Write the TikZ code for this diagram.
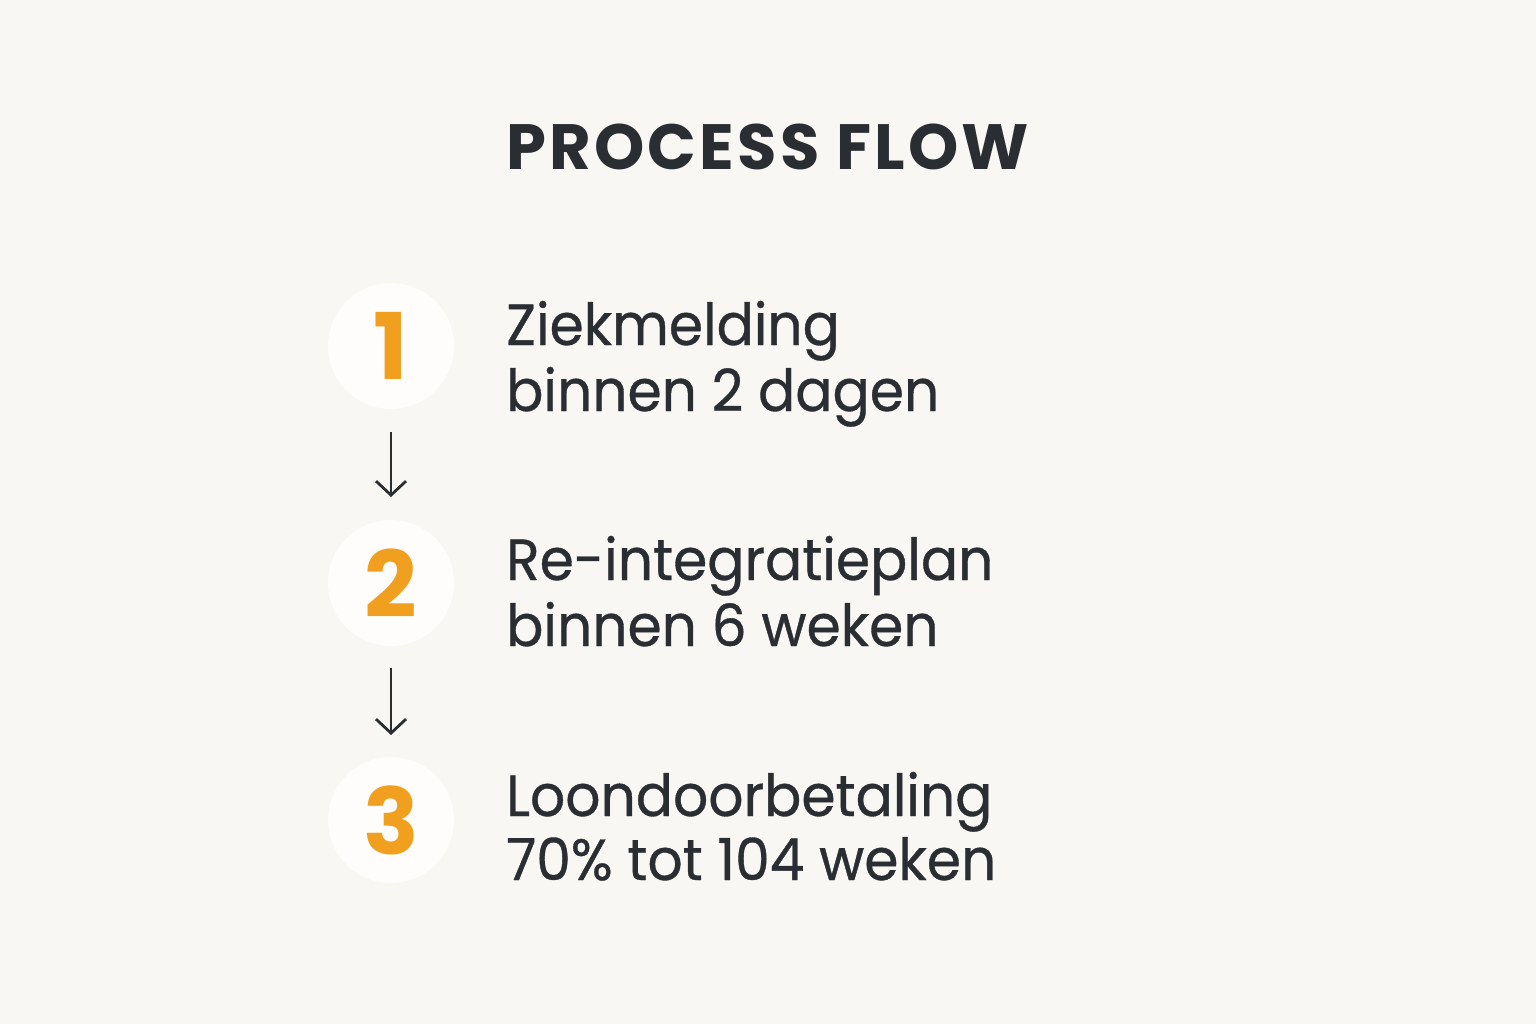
\documentclass[tikz,border=0pt]{standalone}
\usepackage{fontspec}
\setmainfont{Poppins}
\newfontfamily\stepfont{Poppins}[FakeStretch=0.95,FakeBold=0.6]
\newfontfamily\titlefont{Poppins}[LetterSpace=5]
\usetikzlibrary{arrows.meta}
\definecolor{bg}{HTML}{F9F7F3}
\definecolor{circ}{HTML}{FEFDFB}
\definecolor{ink}{HTML}{2A2D31}
\definecolor{num}{HTML}{F0A01E}
\tikzset{
  numcirc/.style={circle, fill=circ, minimum size=126pt, inner sep=0pt, text=num, font=\fontsize{92}{92}\selectfont\bfseries},
  steptext/.style={anchor=base west, inner sep=0pt, text=ink, font=\stepfont\fontsize{58}{66}\selectfont},
  flowarrow/.style={draw=ink, line width=2.8pt, -{Straight Barb[length=14pt,width=30pt,line width=2.8pt]}}
}
\begin{document}
\begin{tikzpicture}[x=1pt,y=-1pt]
\useasboundingbox[fill=bg] (0,0) rectangle (1536,1024);
\node[anchor=base west, inner sep=0pt, text=ink, font=\titlefont\fontsize{64}{64}\selectfont\bfseries] (title) at (506,170) {PROCESS FLOW};
\node[numcirc] (c1) at (391,346) {1};
\node[numcirc] (c2) at (391,583) {2};
\node[numcirc] (c3) at (391,820) {3};
\node[steptext] (t1a) at (506,345) {Ziekmelding};
\node[steptext] (t1b) at (506,411) {binnen 2 dagen};
\node[steptext] (t2a) at (506,580) {Re-integratieplan};
\node[steptext] (t2b) at (506,646) {binnen 6 weken};
\node[steptext] (t3a) at (506,816) {Loondoorbetaling};
\node[steptext] (t3b) at (506,880) {70\% tot 104 weken};
\coordinate (a1s) at (391,432); \coordinate (a1e) at (391,497);
\coordinate (a2s) at (391,668); \coordinate (a2e) at (391,735);
\draw[flowarrow] (a1s) -- (a1e);
\draw[flowarrow] (a2s) -- (a2e);
\end{tikzpicture}
\end{document}
